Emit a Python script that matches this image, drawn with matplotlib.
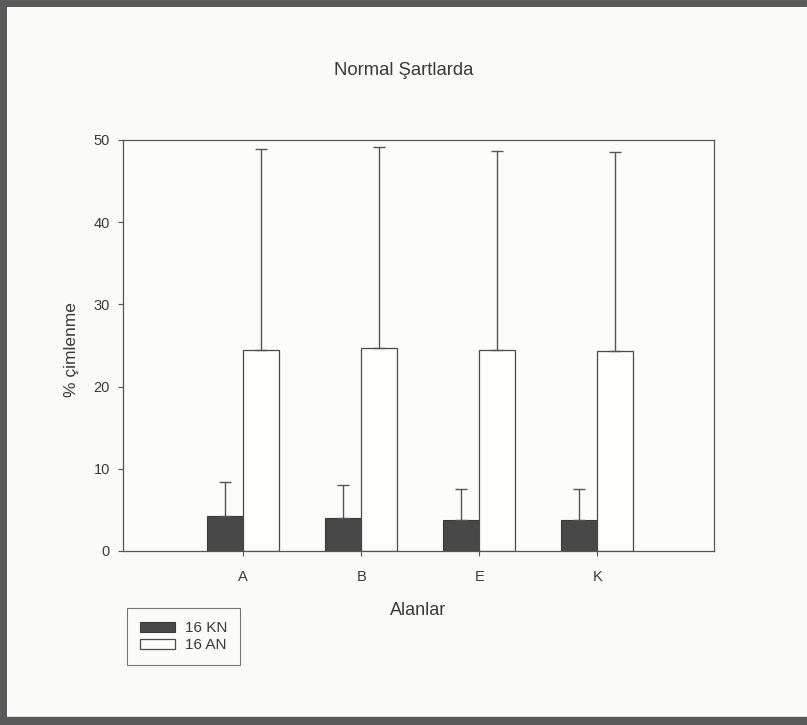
import numpy as np
import matplotlib
matplotlib.use("Agg")
from matplotlib import pyplot as plt
from matplotlib.lines import Line2D

# values
alanlar = ["A", "B", "E", "K"]
kn_mean = [4.25, 4.0, 3.75, 3.8]
kn_err = [4.15, 4.0, 3.85, 3.8]
an_mean = [24.45, 24.65, 24.4, 24.3]
an_err = [24.45, 24.5, 24.3, 24.2]

plt.rcParams["font.family"] = ["Liberation Sans", "DejaVu Sans"]
txt = "#3a3a3a"
edge = "#4a4a4a"

fig = plt.figure(figsize=(8.07, 7.25), dpi=100, facecolor="#fafaf8")
ax = fig.add_axes([0.1524, 0.24, 0.7323, 0.5669])
ax.set_facecolor("#fcfcfa")

x = np.arange(1, len(alanlar) + 1)
w = 0.305
err_kw = dict(ecolor="#555555", elinewidth=1, capsize=4, capthick=1)
ax.bar(x - w / 2, kn_mean, w, yerr=[np.zeros(4), kn_err], color="#484848",
       edgecolor="#3a3a3a", linewidth=0.8, label="16 KN", error_kw=err_kw)
ax.bar(x + w / 2, an_mean, w, yerr=[np.zeros(4), an_err], color="#fdfdfb",
       edgecolor=edge, linewidth=0.9, label="16 AN", error_kw=err_kw)

ax.set_xlim(-0.02, 4.99)
ax.set_ylim(0, 50)
ax.set_xticks(x)
ax.set_xticklabels(alanlar)
ax.set_yticks([0, 10, 20, 30, 40, 50])
ax.tick_params(direction="out", length=3.5, width=0.8, colors="#555555",
               labelcolor=txt, labelsize=10.5)
ax.tick_params(axis="x", pad=10)
ax.tick_params(axis="y", pad=6)
for s in ax.spines.values():
    s.set_color("#555555")
    s.set_linewidth(0.9)

ax.set_xlabel("Alanlar", fontsize=13, color=txt)
ax.xaxis.set_label_coords(0.5, -0.124)
ax.set_ylabel("% çimlenme", fontsize=12.5, color=txt)
ax.yaxis.set_label_coords(-0.074, 0.49)
fig.text(0.5, 0.903, "Normal Şartlarda", ha="center", va="center",
         fontsize=13.3, color=txt)

leg = fig.legend(loc="upper left", bbox_to_anchor=(0.157, 0.1614),
                 fontsize=11, frameon=True, fancybox=False, handlelength=2.3,
                 handleheight=0.65, borderpad=0.85, labelspacing=0.2,
                 handletextpad=0.65, borderaxespad=0)
leg.get_frame().set_edgecolor("#555555")
leg.get_frame().set_linewidth(0.8)
leg.get_frame().set_facecolor("#fcfcfa")
for t in leg.get_texts():
    t.set_color(txt)

# gray frame round the picture (left, top, bottom)
fc = "#5a5a5a"
fig.add_artist(Line2D([0.004, 0.004], [0, 1], transform=fig.transFigure, color=fc, lw=5))
fig.add_artist(Line2D([0, 0.995], [0.996, 0.996], transform=fig.transFigure, color=fc, lw=5))
fig.add_artist(Line2D([0, 1], [0.005, 0.005], transform=fig.transFigure, color=fc, lw=6))

plt.savefig("out.png", dpi=100, facecolor=fig.get_facecolor())
